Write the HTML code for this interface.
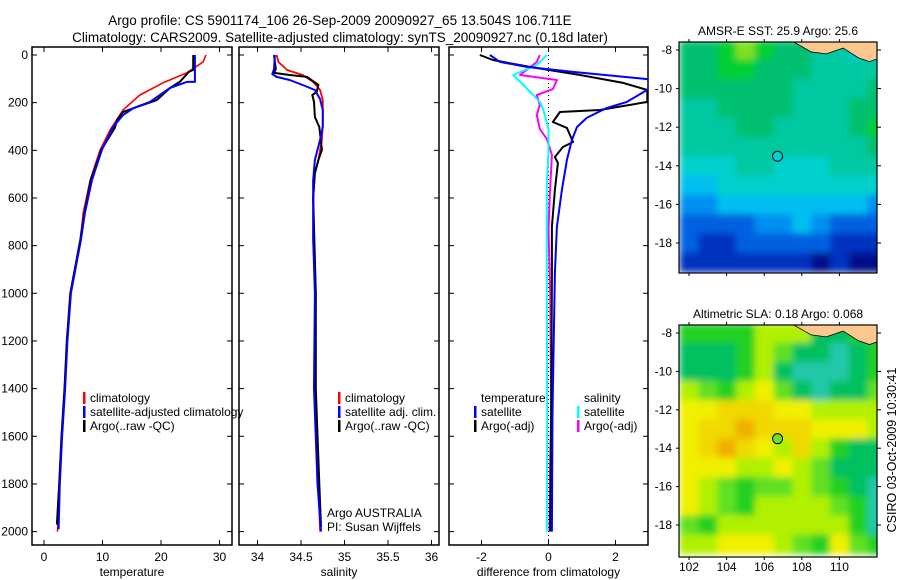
<!DOCTYPE html>
<html><head><meta charset="utf-8"><style>
html,body{margin:0;padding:0;background:#fff}
svg{display:block;font-family:"Liberation Sans",sans-serif}
</style></head><body>
<svg id="fig" width="900" height="580" viewBox="0 0 900 580" xmlns="http://www.w3.org/2000/svg">
<defs>
<clipPath id="c1"><rect x="32" y="47" width="200" height="498"/></clipPath>
<clipPath id="c2"><rect x="239" y="47" width="200" height="498"/></clipPath>
<clipPath id="c3"><rect x="449" y="47" width="199" height="498"/></clipPath>
<clipPath id="cm1"><rect x="679" y="42" width="198" height="231"/></clipPath>
<clipPath id="cm2"><rect x="679" y="325" width="198" height="232"/></clipPath>
<filter id="soft" x="-5%" y="-5%" width="110%" height="110%"><feGaussianBlur stdDeviation="3.5" edgeMode="duplicate"/></filter>
</defs>
<text x="340" y="25" font-size="13.5" text-anchor="middle">Argo profile: CS 5901174_106 26-Sep-2009 20090927_65 13.504S 106.711E</text>
<text x="340" y="42" font-size="13.5" text-anchor="middle">Climatology: CARS2009. Satellite-adjusted climatology: synTS_20090927.nc (0.18d later)</text>
<g id="layer"></g>
<text x="896" y="450" font-size="12.5" text-anchor="middle" transform="rotate(-90 896 450)">CSIRO 03-Oct-2009 10:30:41</text>
</svg>
<script>
// ---- data ----
const depthTicks=[0,200,400,600,800,1000,1200,1400,1600,1800,2000];
const tempTicks=[0,10,20,30];
const salTicks=[34,34.5,35,35.5,36];
const diffTicks=[-2,0,2];
const tempClimD=[0,29,75,117,168,231,314,398,524,663,776,1000,1200,1400,1600,1800,2000];
const tempClim=[27.7,27.2,24.4,20.3,16.4,13.5,11.3,9.6,7.9,6.7,6.2,4.5,4.0,3.5,3.0,2.6,2.3];
const tempSatD=[0,113,113,139,197,223,252,302,398,524,663,776,1000,1200,1400,1600,1800,1990];
const tempSat=[25.8,25.8,24.4,21.5,18.1,15.3,13.5,11.8,9.9,8.2,7.0,6.3,4.6,4.0,3.6,3.1,2.7,2.5];
const tempArgoD=[0,63,70,113,139,189,218,239,273,306,398,524,663,776,1000,1200,1400,1600,1800,1970];
const tempArgo=[25.5,25.5,24.8,23.2,21.5,19.3,15.9,13.5,12.5,12.1,9.8,8.0,6.9,6.2,4.5,3.9,3.5,3.0,2.6,2.2];
const salClimD=[0,29,63,84,113,147,189,285,356,440,524,776,1000,1400,1800,2000];
const salClim=[34.22,34.24,34.34,34.52,34.64,34.72,34.75,34.75,34.74,34.70,34.64,34.64,34.67,34.66,34.70,34.72];
const salSatD=[0,59,80,92,105,126,147,185,231,302,356,440,524,580,776,1000,1400,1800,2000];
const salSat=[34.2,34.19,34.17,34.22,34.37,34.52,34.66,34.72,34.75,34.75,34.72,34.66,34.64,34.64,34.64,34.66,34.65,34.69,34.73];
const salArgoD=[0,59,75,84,92,126,155,168,197,260,302,398,440,496,600,1000,1400,1800,1980];
const salArgo=[34.19,34.21,34.19,34.37,34.57,34.70,34.68,34.63,34.65,34.66,34.71,34.74,34.70,34.66,34.64,34.67,34.67,34.71,34.73];
const dTSatD=[0,29,50,71,101,125,147,197,222,264,302,356,440,566,721,914,1500,2000];
const dTSat=[-1.75,-1.45,-0.65,0.73,2.95,3.6,2.94,2.34,1.74,1.14,0.85,0.7,0.55,0.4,0.25,0.19,0.12,0.1];
const dTArgoD=[0,21,50,84,117,147,197,231,239,281,306,365,386,428,453,566,721,914,1500,2000];
const dTArgo=[-2.05,-1.66,-0.56,0.94,2.23,2.95,2.95,1.53,0.34,0.13,0.55,0.73,0.43,0.19,0.28,0.19,0.1,0.1,0.08,0.05];
const dSSatD=[0,42,84,126,155,197,226,310,407,545,1000,1500,2000];
const dSSat=[-0.05,-0.35,-1.05,-0.75,-0.55,-0.26,-0.16,0,0,-0.05,-0.05,-0.04,-0.05];
const dSArgoD=[0,29,84,105,143,168,210,252,310,352,419,587,730,1000,1500,1700,2000];
const dSArgo=[-0.26,-0.35,-0.85,0.25,0.13,-0.35,-0.26,-0.35,-0.26,-0.05,0.1,0.04,0,0.05,0.08,0.05,0.03];
const latTicks=[-8,-10,-12,-14,-16,-18];
const lonTicks=[102,104,106,108,110];
const sstGrid=[
[7,7,8,9,8,7,7,6,6,5,5],[7,7,8,8,7,7,7,6,6,6,6],[7,7,7,7,7,7,6,6,6,6,7],[6,6,7,7,7,7,6,6,6,7,7],
[6,6,6,7,7,6,6,6,6,7,8],[6,6,6,6,6,6,6,6,6,6,7],[5,5,5,6,6,5,5,5,6,6,6],[4,4,5,5,5,5,5,5,5,5,5],
[3,3,4,4,4,4,4,4,4,4,3],[2,2,2,2,3,3,4,3,2,2,2],[2,1,1,2,2,2,2,2,1,1,1],[1,1,1,1,1,1,1,0,1,0,0]];
const slaGrid=[
[2,2,2,2,4,4,4,1,1,2,2],[1,1,1,2,4,3,1,1,0,1,2],[1,1,1,2,4,1,0,0,0,1,2],[4,3,2,4,5,3,1,0,1,1,3],
[5,5,6,6,6,5,5,4,4,4,4],[5,6,6,7,6,6,6,5,5,5,4],[5,6,7,6,5,4,6,4,2,1,1],[5,5,5,4,4,5,4,3,1,1,1],
[5,4,3,2,3,3,4,3,2,1,0],[5,4,3,2,4,4,4,4,3,2,0],[3,2,4,4,4,4,4,4,4,2,0],[4,4,5,5,5,4,3,2,5,3,2]];
const sstColors=["#00108a","#0030c0","#0060e0","#0090f0","#00bff0","#00d0cc","#00c8a0","#00c070","#00d030","#80e020","#c0f020"];
const slaColors=["#20c8a8","#00c060","#20d020","#60e020","#b0f000","#f0f000","#f0d800","#f0b000"];
const argoLon=106.711, argoLat=-13.504;
// ---- helpers ----
const NS="http://www.w3.org/2000/svg";
const L=document.getElementById('layer');
function mk(tag,at,parent){const e=document.createElementNS(NS,tag);for(const k in at)e.setAttribute(k,at[k]);(parent||L).appendChild(e);return e;}
function txt(x,y,s,size,anchor,parent){const e=mk('text',{x:x,y:y,'font-size':size||12,'text-anchor':anchor||'start'},parent);e.textContent=s;return e;}
const dY=d=>55+d*0.2383;
const tX=v=>44+v*5.85;
const sX=v=>257.5+(v-34)*87;
const fX=v=>548.5+v*33.5;
function panel(x0,x1,xf,xt,title,clip,name){
  const g=mk('g',{});
  
  
  const r=mk('rect',{x:x0,y:47,width:x1-x0,height:498,fill:'none',stroke:'#000','stroke-width':1.5},g);
  
  
  depthTicks.forEach(d=>{const y=dY(d);mk('line',{x1:x0,x2:x0+5,y1:y,y2:y,stroke:'#000'},g);mk('line',{x1:x1-5,x2:x1,y1:y,y2:y,stroke:'#000'},g);});
  xt.forEach(v=>{const x=xf(v);mk('line',{x1:x,x2:x,y1:47,y2:52,stroke:'#000'},g);mk('line',{x1:x,x2:x,y1:540,y2:545,stroke:'#000'},g);
    const t=txt(x,561,String(v),12,'middle',g);
    
    });
  const tt=txt((x0+x1)/2,576,title,12,'middle',g);
  
  
  return g;
}
function line(D,V,xf,color,clip,name,w){
  const p=D.map((d,i)=>xf(V[i]).toFixed(1)+','+dY(d).toFixed(1)).join(' ');
  const e=mk('polyline',{points:p,fill:'none',stroke:color,'stroke-width':w||2,'clip-path':'url(#'+clip+')','stroke-linejoin':'round'});
  
  
}
function legend(x,y,color,label,name){
  if(color){const b=mk('rect',{x:x,y:y-10,width:2.5,height:12,fill:color});
    
    }
  const t=txt(x+7,y,label,12);
  
  
}
// panel 1
panel(32,232,tX,tempTicks,'temperature','c1','temperature');
depthTicks.forEach(d=>{const t=txt(28,dY(d)+4,String(d),12,'end');
  
  });
line(tempClimD,tempClim,tX,'#f00','c1','temp-climatology-line',1.6);
line(tempArgoD,tempArgo,tX,'#000','c1','temp-argo-line');
line(tempSatD,tempSat,tX,'#00f','c1','temp-satellite-line');
legend(83,402,'#f00','climatology','legend-climatology');
legend(83,416,'#00f','satellite-adjusted climatology','legend-satellite-adjusted');
legend(83,430,'#000','Argo(..raw -QC)','legend-argo');
// panel 2
panel(239,439,sX,salTicks,'salinity','c2','salinity');
line(salClimD,salClim,sX,'#f00','c2','sal-climatology-line',1.8);
line(salArgoD,salArgo,sX,'#000','c2','sal-argo-line');
line(salSatD,salSat,sX,'#00f','c2','sal-satellite-line');
legend(338,402,'#f00','climatology','legend-sal-climatology');
legend(338,416,'#00f','satellite adj. clim.','legend-sal-satellite');
legend(338,430,'#000','Argo(..raw -QC)','legend-sal-argo');
legend(320,517,null,'Argo AUSTRALIA','credit-argo-australia');
legend(320,531,null,'PI: Susan Wijffels','credit-pi');
// panel 3
panel(449,648,fX,diffTicks,'difference from climatology','c3','difference');
mk('line',{x1:fX(0),x2:fX(0),y1:47,y2:545,stroke:'#000','stroke-dasharray':'1,3'});
line(dSArgoD,dSArgo,fX,'#f0f','c3','sal-diff-argo-line');
line(dSSatD,dSSat,fX,'#0ff','c3','sal-diff-satellite-line');
line(dTArgoD,dTArgo,fX,'#000','c3','temp-diff-argo-line');
line(dTSatD,dTSat,fX,'#00f','c3','temp-diff-satellite-line');
legend(474,402,null,'temperature','legend-diff-temperature-header');
legend(474,416,'#00f','satellite','legend-diff-temp-satellite');
legend(474,430,'#000','Argo(-adj)','legend-diff-temp-argo');
legend(577,402,null,'salinity','legend-diff-salinity-header');
legend(577,416,'#0ff','satellite','legend-diff-sal-satellite');
legend(577,430,'#f0f','Argo(-adj)','legend-diff-sal-argo');
// maps
function map(top,bottom,grid,colors,clip,title,name,circleFill){
  const x0=679,x1=877;
  const lonX=lo=>689+(lo-102)*18.8;
  const lat8=top+8, lat18=lat8+(bottom===273?193:192);
  const latY=la=>lat8+(-8-la)*(lat18-lat8)/10;
  const outer=mk('g',{'clip-path':'url(#'+clip+')'});
  const g=mk('g',{filter:'url(#soft)'},outer);
  
  
  grid.forEach((row,i)=>row.forEach((v,j)=>{
    const xa=lonX(101.5+j),xb=lonX(102.5+j),ya=latY(-7.5-i),yb=latY(-8.5-i);
    const c=mk('rect',{x:xa.toFixed(1),y:ya.toFixed(1),width:(xb-xa+0.5).toFixed(1),height:(yb-ya+0.5).toFixed(1),fill:colors[v]},g);
    
    
  }));
  const land=mk('path',{d:`M${lonX(107.5)},${latY(-7.4)} L${lonX(107.6)},${latY(-7.6)} L${lonX(108.5)},${latY(-8.1)} L${lonX(109.3)},${latY(-8.2)} L${lonX(110.2)},${latY(-7.9)} L${lonX(111)},${latY(-8.4)} L${lonX(111.6)},${latY(-8.6)} L${lonX(112.2)},${latY(-8.4)} L${lonX(112.2)},${latY(-7.4)} Z`,fill:'#fdc890',stroke:'#000','stroke-width':0.8},outer);
  
  
  const c=mk('circle',{cx:lonX(argoLon),cy:latY(argoLat),r:5,fill:circleFill,stroke:'#000','stroke-width':1});
  
  
  const f=mk('rect',{x:x0,y:top,width:x1-x0,height:bottom-top,fill:'none',stroke:'#000','stroke-width':1.2});
  
  
  latTicks.forEach(la=>{const y=latY(la);mk('line',{x1:x1,x2:x1+4,y1:y,y2:y,stroke:'#000'});mk('line',{x1:x0-3,x2:x0,y1:y,y2:y,stroke:'#000'});
    const t=txt(672,y+4,String(la),12,'end');
    
    });
  lonTicks.forEach(lo=>{const x=lonX(lo);mk('line',{x1:x,x2:x,y1:bottom,y2:bottom+3,stroke:'#000'});mk('line',{x1:x,x2:x,y1:top-3,y2:top,stroke:'#000'});
    if(bottom>500){const t=txt(x,571,String(lo),12,'middle');
    
    }});
  const tt=txt(778,top-7,title,12,'middle');
  
  
}
map(42,273,sstGrid,sstColors,'cm1','AMSR-E SST: 25.9 Argo: 25.6','sst','#00d0d8');
map(325,557,slaGrid,slaColors,'cm2','Altimetric SLA: 0.18 Argo: 0.068','sla','#70e020');
</script>
</body></html>
